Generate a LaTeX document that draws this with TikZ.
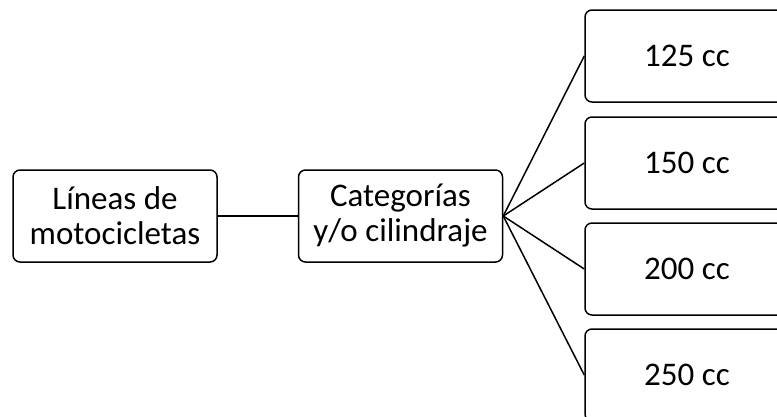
\documentclass[tikz,border=0pt]{standalone}
\usepackage{fontspec}
\setmainfont{Carlito}
\begin{document}
\begin{tikzpicture}[x=1pt,y=-1pt,
        box/.style={draw, line width=1.5pt, rounded corners=7pt, align=center,
            inner sep=0pt, minimum width=204pt, minimum height=92pt,
            font=\fontsize{33}{35}\selectfont},
        link/.style={line width=1.5pt}]

        \useasboundingbox (0,0) rectangle (777,416);
        \clip (0,0) rectangle (777,416);

        % first two levels
        \node[box] (lineas) at (115,216) {Líneas de\\motocicletas};
        \node[box] (categorias) at (400.5,216) {Categorías\\y/o cilindraje};
        \draw[link] (lineas) -- (categorias);

        % engine sizes
        \foreach \cc/\ypos in {125/56, 150/163, 200/269, 250/375} {
            \node[box] (cc\cc) at (687,\ypos) {\cc{} cc};
            \draw[link] (categorias.east) -- (cc\cc.west);
        }
    \end{tikzpicture}
\end{document}
